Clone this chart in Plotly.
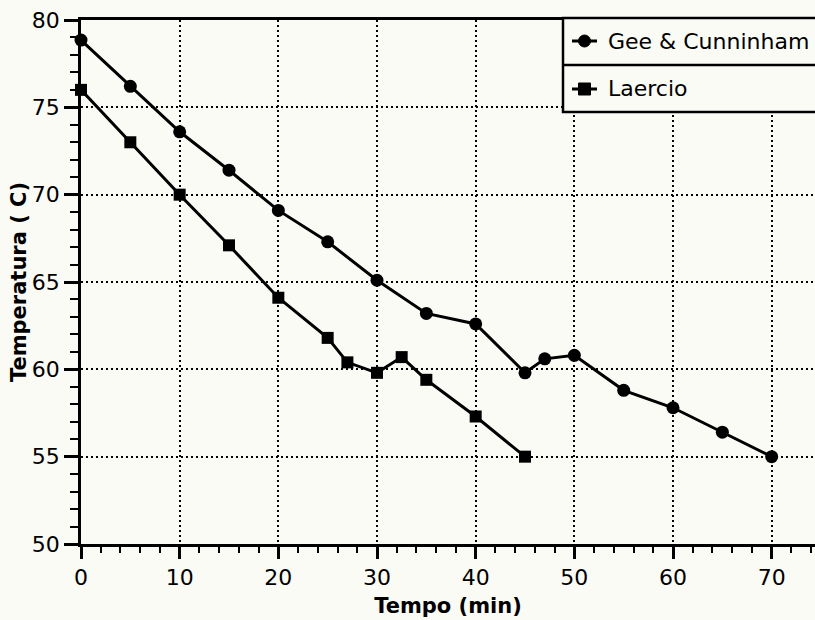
import plotly.graph_objects as go

# Data
tempo_gee = [0, 5, 10, 15, 20, 25, 30, 35, 40, 45, 47, 50, 55, 60, 65, 70]
temp_gee = [78.85, 76.2, 73.6, 71.4, 69.1, 67.3, 65.1, 63.2, 62.6, 59.8, 60.6, 60.8, 58.8, 57.8, 56.4, 55.0]
tempo_lae = [0, 5, 10, 15, 20, 25, 27, 30, 32.5, 35, 40, 45]
temp_lae = [76.0, 73.0, 70.0, 67.1, 64.1, 61.8, 60.4, 59.8, 60.7, 59.4, 57.3, 55.0]
series_names = ["Gee & Cunninham", "Laercio"]
x_ticks = [0, 10, 20, 30, 40, 50, 60, 70]
y_ticks = [50, 55, 60, 65, 70, 75, 80]

W, H = 815, 620
L, R, T, B = 81, 0, 20, 76
BG = "#fbfbf6"
FONT = "DejaVu Sans"

fig = go.Figure()
fig.add_trace(go.Scatter(x=tempo_gee, y=temp_gee, mode="lines+markers", name=series_names[0],
                         line=dict(color="black", width=3),
                         marker=dict(symbol="circle", size=13, color="black"),
                         cliponaxis=False, showlegend=False))
fig.add_trace(go.Scatter(x=tempo_lae, y=temp_lae, mode="lines+markers", name=series_names[1],
                         line=dict(color="black", width=3),
                         marker=dict(symbol="square", size=12, color="black"),
                         cliponaxis=False, showlegend=False))

pw = W - L - R
ph = H - T - B
def px(X):
    return (X - L) / pw
def py(Y):
    return (H - B - Y) / ph

shapes = []
# legend box (extends beyond right edge)
shapes.append(dict(type="rect", xref="paper", yref="paper", x0=px(563), x1=px(840), y0=py(112), y1=py(18),
                   line=dict(color="black", width=2.5), fillcolor=BG, layer="above"))
shapes.append(dict(type="line", xref="paper", yref="paper", x0=px(563), x1=px(840), y0=py(65), y1=py(65),
                   line=dict(color="black", width=2.5), layer="above"))
annotations = []
rows = [(41, "circle"), (89, "square")]
for (yc, sym), name in zip(rows, series_names):
    shapes.append(dict(type="line", xref="paper", yref="paper", x0=px(572), x1=px(597), y0=py(yc), y1=py(yc),
                       line=dict(color="black", width=3), layer="above"))
    shapes.append(dict(type="circle" if sym == "circle" else "rect", xref="paper", yref="paper",
                       xsizemode="pixel", ysizemode="pixel",
                       xanchor=px(584.5), yanchor=py(yc), x0=-6, x1=6, y0=-6, y1=6,
                       fillcolor="black", line=dict(color="black", width=1), layer="above"))
    annotations.append(dict(text=name, xref="paper", yref="paper", x=px(606), y=py(yc),
                            xanchor="left", yanchor="middle", showarrow=False,
                            font=dict(family=FONT, size=22, color="black")))

axis_common = dict(showline=True, linecolor="black", linewidth=2.5, ticks="outside", tickcolor="black",
                   tickwidth=2.5, showgrid=True, gridcolor="black", gridwidth=2.2, griddash="2px,3px",
                   zeroline=False, tickfont=dict(family=FONT, size=22, color="black"))

fig.update_layout(
    width=W, height=H, margin=dict(l=L, r=R, t=T, b=B, autoexpand=False),
    paper_bgcolor=BG, plot_bgcolor=BG,
    shapes=shapes, annotations=annotations, showlegend=False,
    xaxis=dict(range=[0, 74.39], tickvals=x_ticks, ticklen=12, mirror=True,
               minor=dict(dtick=2, tick0=0, ticklen=6, tickwidth=2, tickcolor="black", ticks="outside", showgrid=False),
               title=dict(text="<b>Tempo (min)</b>", font=dict(family=FONT, size=21, color="black"), standoff=10),
               **axis_common),
    yaxis=dict(range=[50, 80], tickvals=y_ticks, ticklen=14, mirror=False,
               minor=dict(dtick=1, tick0=50, ticklen=8, tickwidth=2, tickcolor="black", ticks="outside", showgrid=False),
               title=dict(text="<b>Temperatura ( C)</b>", font=dict(family=FONT, size=21, color="black"), standoff=0),
               **axis_common),
)

fig.write_html("out.html")
